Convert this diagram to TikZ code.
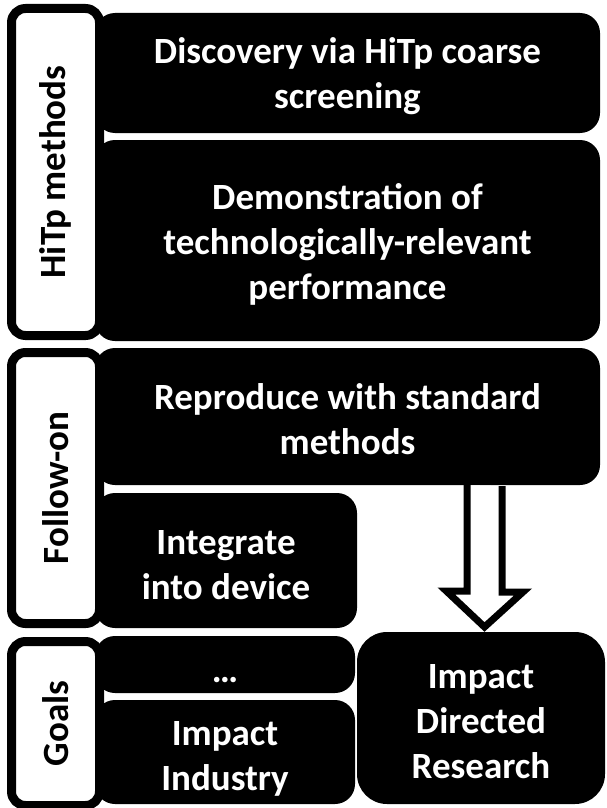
\documentclass[tikz,border=0pt]{standalone}
\usepackage{fontspec}
\setmainfont{Carlito}
\begin{document}
\begin{tikzpicture}[x=1pt,y=-1pt,
  goal/.style={fill=black,rounded corners=20pt,inner sep=0pt},
  goaltext/.style={text=white,inner sep=0pt,align=center,yshift=-4pt,
    font=\fontsize{37}{45}\selectfont\bfseries},
  stage/.style={draw=black,fill=white,line width=9pt,rounded corners=14pt,inner sep=0pt,
    rotate=90,font=\fontsize{37}{45}\selectfont\bfseries},
  hollow/.style={draw=black,fill=white,line width=7pt}]
\useasboundingbox (0,0) rectangle (606,808);

\node[goal,minimum width=505pt,minimum height=120pt] (disc) at (347.5,73) {};
\node[goal,minimum width=505pt,minimum height=201pt] (demo) at (347.5,240.5) {};
\node[goal,minimum width=505pt,minimum height=137pt] (repro) at (347.5,416.5) {};
\node[goal,minimum width=262pt,minimum height=135pt] (integ) at (226,560.5) {};
\node[goal,minimum width=260pt,minimum height=57pt] (etc) at (225,664.5) {};
\node[goal,minimum width=260pt,minimum height=104pt] (indus) at (225,752) {};
\node[goal,rounded corners=30pt,minimum width=248pt,minimum height=172pt] (resea) at (481,718) {};

\node[goaltext,yshift=1pt] (disctext) at (disc) {Discovery via HiTp coarse\\screening};
\node[goaltext] (demotext) at (demo) {Demonstration of\\technologically-relevant\\performance};
\node[goaltext,yshift=1pt] (reprotext) at (repro) {Reproduce with standard\\methods};
\node[goaltext,yshift=-1pt] (integtext) at (integ) {Integrate\\into device};
\node[goaltext,yshift=-12pt] (etctext) at (etc) {\dots};
\node[goaltext,yshift=-3pt] (industext) at (indus) {Impact\\Industry};
\node[goaltext] (reseatext) at (resea) {Impact\\Directed\\Research};

\node[stage,minimum width=327pt,minimum height=88pt] (hitp) at (55.5,172) {HiTp methods};
\node[stage,minimum width=271pt,minimum height=88pt] (follow) at (55.5,488) {Follow-on};
\node[stage,minimum width=164pt,minimum height=88pt] (goals) at (55.5,723.5) {Goals};

\coordinate (tip) at (484.5,627);
\coordinate (top) at (tip |- repro.south);
\draw[hollow] (top) ++(-17.5,0) -- ++(0,106) -- ++(-20.5,0) -- (tip)
  -- ++(38.5,-35) -- ++(-21,0) -- ++(0,-106);
\end{tikzpicture}
\end{document}
